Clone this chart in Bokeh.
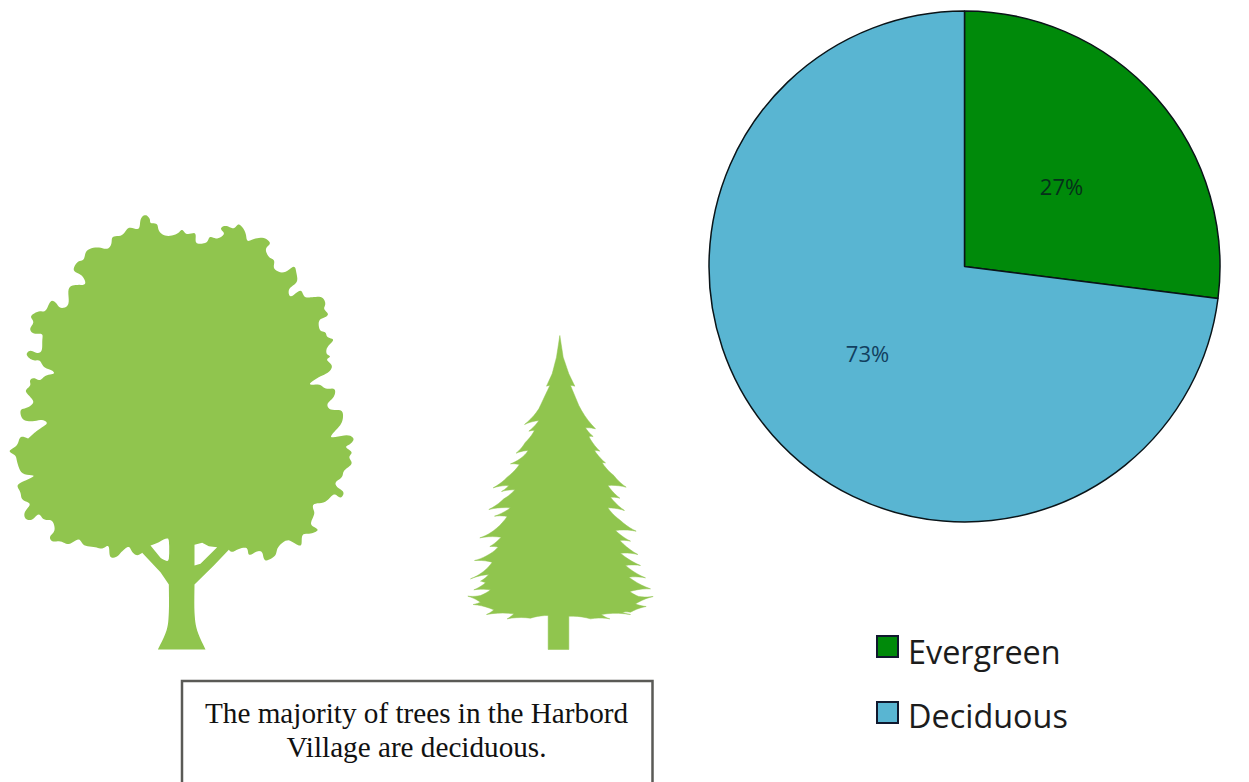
from bokeh.core.properties import value
from bokeh.embed import file_html
from bokeh.models import ColumnDataSource, Range1d
from bokeh.plotting import figure
from bokeh.resources import INLINE
import numpy as np

WIDTH, HEIGHT = 1249, 782

# Pie chart data
categories = ["Evergreen", "Deciduous"]
shares = [27, 73]
pie_colors = ["#008A0A", "#59B5D2"]
share_labels = ["27%", "73%"]
share_label_colors = ["#06301A", "#123F60"]

caption_lines = ["The majority of trees in the Harbord", "Village are deciduous."]

LEAF_GREEN = "#90C54E"

# Broadleaf crown silhouette, traced clockwise at 3 units per page pixel.
crown_upper = [
    (100,698),(125,680),(140,668),(125,658),(90,663),(65,655),
    (60,628),(80,622),(100,605),(85,585),(75,570),(90,555),(88,540),(100,532),(118,540),(135,525),
    (160,520),(155,510),(130,500),(118,480),(100,480),(85,472),(78,460),(90,450),(110,458),(124,450),
    (125,420),(125,400),(100,400),(88,385),(100,365),(90,347),(115,332),(135,332),(150,302),(165,305),
    (180,323),(205,312),(203,265),(225,253),(255,252),(245,225),(218,210),(232,183),(250,178),(258,150),
    (290,140),(320,146),(333,130),(336,108),(365,105),(385,80),(415,87),(420,55),(435,43),(448,55),
    (450,68),(470,70),(475,92),(498,107),(530,100),(545,87),(558,102),(585,97),(585,125),(600,130),
    (620,125),(628,108),(650,115),(672,100),(660,85),(675,75),(700,85),(715,70),(735,95),(740,122),
    (760,115),(790,112),(810,128),(795,145),(805,170),(822,180),(820,205),(850,217),(880,197),(887,215),
    (890,245),(865,265),(870,290),(900,268),(912,290),(935,290),(965,290),(975,310),(970,325),(983,340),
    (975,350),(955,360),(958,390),(975,395),(980,410),(1000,418),(980,440),(978,460),(990,468),(978,478),
    (995,495),(985,515),(955,530),(925,552),(958,552),(975,565),(1003,565),(1000,590),(980,610),(990,628),
    (1025,630),(1025,665),(1005,690),
]
crown_lower_right = [
    (990,22),(1040,13),(1060,25),(1050,40),(1035,50),(1055,65),(1045,80),(1055,100),(1030,120),(1025,140),
    (1005,155),(1010,170),(1030,185),(1020,203),(1000,190),(975,215),(940,220),(938,235),(942,250),(930,280),
    (945,292),(952,300),(930,310),(905,312),(903,345),(885,340),(860,328),(832,350),(825,375),(800,390),
    (790,385),(785,365),(770,362),(745,375),(740,352),(715,355),(695,365),(685,358),
]
trunk_right = [(685,358),(640,405),(582,462)]
trunk_flare_right = [(582,462),(582,545),(590,600),(615,657)]
trunk_flare_left = [(472,657),(498,600),(505,545),(505,462)]
trunk_left = [(505,462),(480,425),(425,367)]
crown_lower_left = [
    (425,367),(410,375),(395,365),(385,348),(365,362),(350,378),(328,380),(325,345),(305,355),(285,350),
    (250,345),(235,325),(205,342),(180,332),(155,333),(148,318),(163,300),(155,270),(130,268),(115,250),
    (95,268),(75,265),(72,245),(90,220),(65,208),(60,185),(50,165),(70,152),(103,135),(65,130),
    (50,95),(45,75),(25,62),(50,45),(60,18),(85,25),
]
gap_left = [(450,345),(475,335),(495,325),(505,330),(505,385),(495,390),(480,382)]
gap_right = [(582,343),(605,337),(625,347),(650,350),(600,400),(582,405)]

# Conifer silhouette, same tracing scale; stem kept apart from the branches.
conifer_right = [
    (328,15),(338,80),(355,130),(373,167),(360,165),(385,225),(435,295),(405,292),(428,318),(415,318),
    (448,362),(432,360),(465,397),(455,397),(490,435),(527,470),(472,465),(508,503),(480,500),(522,540),
    (472,532),(510,570),(557,602),(495,600),(540,632),(508,630),(562,672),(510,668),(570,705),(525,705),
    (585,742),(535,740),(600,775),(538,783),(565,798),(608,798),(555,820),(587,828),(540,845),(515,845),
    (540,852),(452,852),(478,865),(420,865),(355,857),
]
conifer_stem = [(355,957),(293,957)]
conifer_left = [
    (293,855),(240,863),(170,865),
    (190,850),(108,852),(130,838),(68,822),(90,815),(52,797),(90,795),(120,778),(70,778),(105,757),
    (90,752),(115,732),(60,745),(100,722),(125,695),(72,690),(115,672),(143,650),(118,648),(152,620),
    (88,622),(130,600),(170,558),(132,557),(180,532),(115,537),(160,505),(193,478),(153,483),(175,465),
    (128,472),(170,440),(207,402),(180,400),(215,380),(233,360),(197,368),(225,335),(252,300),(235,302),
    (265,270),(222,282),(265,235),(298,165),(288,167),(305,130),(318,80),(328,15),
]


def to_page(points, left, top):
    """Convert traced points to page units."""
    pts = np.asarray(points, dtype=float)
    return np.column_stack((pts[:, 0] / 3 + left, pts[:, 1] / 3 + top))


def soften(points, steps=6, window=5):
    """Catmull-Rom curve through an open run of points, lightly averaged to round the lobes."""
    pts = np.vstack((points[0], points, points[-1]))
    out = []
    for i in range(1, len(pts) - 2):
        p0, p1, p2, p3 = pts[i - 1], pts[i], pts[i + 1], pts[i + 2]
        for t in np.linspace(0, 1, steps, endpoint=False):
            out.append(0.5 * (2 * p1 + (p2 - p0) * t + (2 * p0 - 5 * p1 + 4 * p2 - p3) * t ** 2
                              + (3 * p1 - p0 - 3 * p2 + p3) * t ** 3))
    out.append(pts[-2])
    out = np.array(out)
    if window > 1:
        pad = window // 2
        padded = np.vstack((np.repeat(out[:1], pad, axis=0), out, np.repeat(out[-1:], pad, axis=0)))
        kernel = np.ones(window) / window
        out = np.column_stack([np.convolve(padded[:, k], kernel, mode="valid") for k in (0, 1)])
    return out


def swoop(points, depth=0.04, samples=5):
    """Bow the shallow edges of a clockwise outline inward; steep edges along the spire stay straight."""
    out = []
    for a, b in zip(points[:-1], points[1:]):
        d = b - a
        bow = 0 if abs(d[0]) < 0.5 * abs(d[1]) else depth
        ctrl = (a + b) / 2 + 2 * bow * np.array([-d[1], d[0]])
        for t in np.linspace(0, 1, samples, endpoint=False):
            out.append((1 - t) ** 2 * a + 2 * t * (1 - t) * ctrl + t ** 2 * b)
    out.append(points[-1])
    return np.array(out)


p = figure(width=WIDTH, height=HEIGHT, output_backend="svg", toolbar_location=None,
           x_range=Range1d(0, WIDTH), y_range=Range1d(HEIGHT, 0),
           min_border=0, outline_line_color=None, background_fill_color="white",
           border_fill_color="white", x_axis_type=None, y_axis_type=None)
p.grid.visible = False

# Broadleaf tree with the two gaps between trunk and branches
outline = np.vstack((
    soften(np.vstack((to_page(crown_upper, 0, 200), to_page(crown_lower_right, 0, 430)))),
    to_page(trunk_right, 0, 430),
    soften(to_page(trunk_flare_right, 0, 430), window=1),
    soften(to_page(trunk_flare_left, 0, 430), window=1),
    to_page(trunk_left, 0, 430),
    soften(to_page(crown_lower_left, 0, 430)),
))
hole_l = soften(to_page(gap_left, 0, 430), 3, 1)
hole_r = to_page(gap_right, 0, 430)
p.multi_polygons(
    xs=[[[list(outline[:, 0]), list(hole_l[:, 0]), list(hole_r[:, 0])]]],
    ys=[[[list(outline[:, 1]), list(hole_l[:, 1]), list(hole_r[:, 1])]]],
    fill_color=LEAF_GREEN, line_color=None)

# Conifer
fir = np.vstack((
    swoop(to_page(conifer_right, 450, 330)),
    to_page(conifer_stem, 450, 330),
    swoop(to_page(conifer_left, 450, 330)),
))
p.patch(fir[:, 0], fir[:, 1], fill_color=LEAF_GREEN, line_color=LEAF_GREEN, line_width=0.5)

# Caption box, open at the page bottom
box_x = [181.5, 181.5, 652, 652]
box_y = [800, 680.5, 680.5, 800]
p.line(box_x, box_y, line_color="#5A5A56", line_width=2.5, line_join="miter")
p.text([416, 416], [712, 746], text=caption_lines, text_align="center", text_baseline="middle",
       text_font=value("Liberation Serif"), text_font_size="29.2px", text_color="#111111")

# Pie: slices start at twelve o'clock and run clockwise
cx, cy, radius = 964, 266, 255.5
fractions = np.array(shares) / sum(shares)
edges = np.concatenate(([0], np.cumsum(fractions))) * 2 * np.pi
start = np.pi / 2 - edges[:-1]
end = np.pi / 2 - edges[1:]
pie = ColumnDataSource(dict(category=categories, start=start, end=end, color=pie_colors))
p.wedge(x=cx, y=cy, radius=radius, start_angle="start", end_angle="end", direction="clock",
        fill_color="color", line_color="#0A1418", line_width=1.5, source=pie)
p.text([1061, 867], [185, 352], text=share_labels, text_align="center", text_baseline="middle",
       text_font=value("Open Sans"), text_font_size="22px", text_color=share_label_colors)

# Legend
legend_y = [646, 712]
p.rect([887, 887], legend_y, width=21, height=21, fill_color=pie_colors, line_color="#10182E",
       line_width=2, line_join="miter")
p.text([907.5, 907.5], [650, 714], text=categories, text_align="left", text_baseline="middle",
       text_font=value("Open Sans"), text_font_size="32.4px", text_color="#1C1C1C")

open("out.html", "w").write(file_html(p, INLINE))
